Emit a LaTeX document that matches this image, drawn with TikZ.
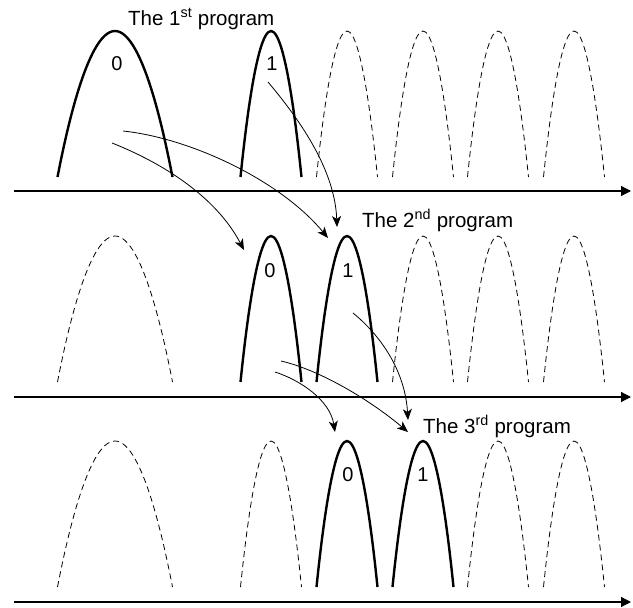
\documentclass[tikz,border=0pt]{standalone}
\usepackage{fontspec}
\setmainfont{Liberation Sans}
\usetikzlibrary{arrows.meta}
\tikzset{
  solidarch/.style={line width=2.4pt, line cap=butt},
  dasharch/.style={line width=0.8pt, dash pattern=on 6pt off 4pt},
  flow/.style={line width=0.8pt, -{Stealth[length=11pt,width=9pt,inset=3pt]}},
  axisline/.style={line width=1.2pt, -{Triangle[length=10pt,width=10pt]}},
  digit/.style={font=\fontsize{20}{22}\selectfont, inner sep=0pt},
  title/.style={font=\fontsize{20.5}{23}\selectfont, inner sep=0pt, anchor=base west}
}
% arch: #1 style, #2 centre x, #3 base y, #4 half width
\newcommand\myarch[4]{\draw[#1] ({#2-#4},#3) parabola bend (#2,{#3-146}) ({#2+#4},#3);}
\begin{document}
\begin{tikzpicture}[x=1pt,y=-1pt]
\useasboundingbox (0,0) rectangle (633,608);
% ---------- row 1 ----------
\myarch{solidarch}{115}{177}{57.5}
\myarch{solidarch}{271}{177}{30.5}
\foreach \c in {347,423,498,574} {\myarch{dasharch}{\c}{177}{30.5}}
\coordinate (a1s) at (14,191);
\coordinate (a1e) at (631,191);
\draw[axisline] (a1s) -- (a1e);
\node[title] (t1) at (128,25) {The 1\textsuperscript{st} program};
\node[digit] (r1d0) at (117,64) {0};
\node[digit] (r1d1) at (272,64) {1};
% ---------- row 2 ----------
\myarch{dasharch}{115}{382}{57.5}
\myarch{solidarch}{271}{382}{30.5}
\myarch{solidarch}{347}{382}{30.5}
\foreach \c in {423,498,574} {\myarch{dasharch}{\c}{382}{30.5}}
\coordinate (a2s) at (14,397);
\coordinate (a2e) at (631,397);
\draw[axisline] (a2s) -- (a2e);
\node[title] (t2) at (362,227) {The 2\textsuperscript{nd} program};
\node[digit] (r2d0) at (270,271) {0};
\node[digit] (r2d1) at (348,271) {1};
% ---------- row 3 ----------
\myarch{dasharch}{115}{587}{57.5}
\myarch{dasharch}{271}{587}{30.5}
\myarch{solidarch}{347}{587}{30.5}
\myarch{solidarch}{423}{587}{30.5}
\foreach \c in {498,574} {\myarch{dasharch}{\c}{587}{30.5}}
\coordinate (a3s) at (14,602);
\coordinate (a3e) at (631,602);
\draw[axisline] (a3s) -- (a3e);
\node[title] (t3) at (423,433) {The 3\textsuperscript{rd} program};
\node[digit] (r3d0) at (348,475) {0};
\node[digit] (r3d1) at (423,475) {1};
% ---------- flow arrows row 1 -> row 2 ----------
\coordinate (p1a) at (123,131);
\coordinate (p1b) at (112,143);
\coordinate (p1c) at (268,82);
\coordinate (q1a) at (328,238);
\coordinate (q1b) at (244,250);
\coordinate (q1c) at (337,227);
\draw[flow] (p1a) .. controls (190,138) and (280,180) .. (q1a);
\draw[flow] (p1b) .. controls (160,162) and (215,195) .. (q1b);
\draw[flow] (p1c) .. controls (300,120) and (335,170) .. (q1c);
% ---------- flow arrows row 2 -> row 3 ----------
\coordinate (p2a) at (281,361);
\coordinate (p2b) at (275,372);
\coordinate (p2c) at (353,313);
\coordinate (q2a) at (408,432);
\coordinate (q2b) at (335,432);
\coordinate (q2c) at (408,420);
\draw[flow] (p2a) .. controls (320,370) and (370,400) .. (q2a);
\draw[flow] (p2b) .. controls (300,380) and (330,400) .. (q2b);
\draw[flow] (p2c) .. controls (380,335) and (405,370) .. (q2c);
\end{tikzpicture}
\end{document}
